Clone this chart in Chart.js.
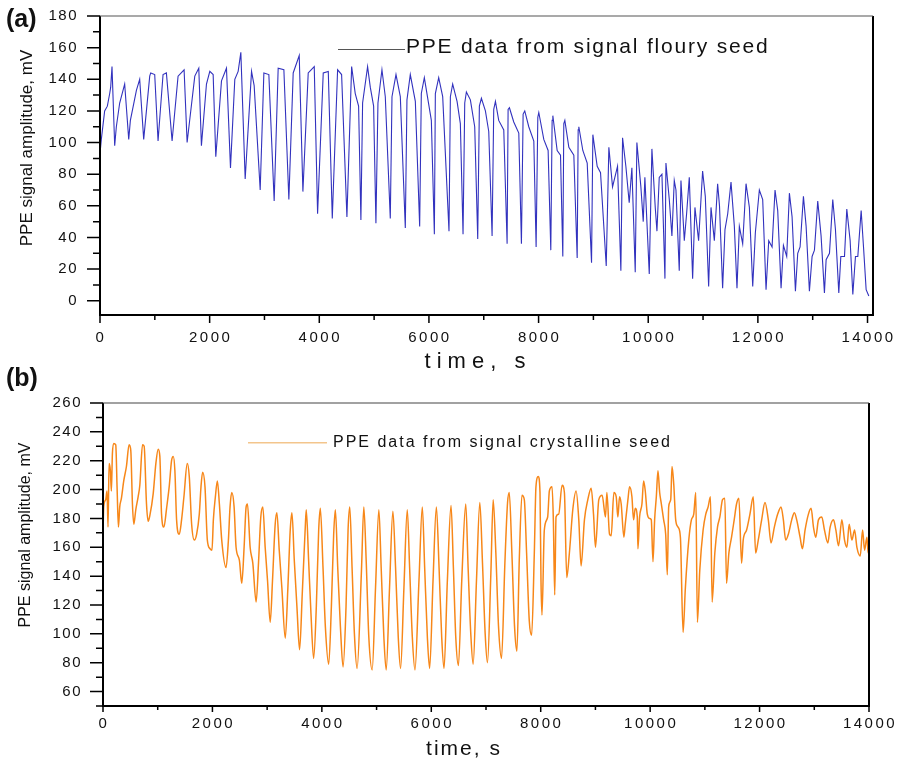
<!DOCTYPE html>
<html lang="en">
<head>
<meta charset="UTF-8">
<meta name="viewport" content="width=device-width, initial-scale=1.0">
<script src="https://cdn.jsdelivr.net/npm/chart.js"></script>
<title>PPE signal</title>
<style>
  body { margin: 0; background: #fff; overflow: hidden; }
  .panel { position: absolute; left: 0; width: 900px; }
</style>
</head>
<body>
<div class="panel" style="top:0;height:380px"><canvas id="chartA" width="900" height="380"></canvas></div>
<div class="panel" style="top:350px;height:413px"><canvas id="chartB" width="900" height="413"></canvas></div>

<script>
// (a) floury seed, time in s and amplitude in mV
const flouryTime = [
  0, 24, 85, 134, 177, 195, 219, 268, 298, 359,
  450, 524, 554, 664, 724, 797, 907, 925, 998, 1059,
  1150, 1211, 1315, 1424, 1534, 1589, 1729, 1802, 1850, 1942,
  2003, 2064, 2112, 2216, 2307, 2380, 2459, 2520, 2569, 2648,
  2764, 2812, 2922, 2989, 3080, 3177, 3250, 3354, 3445, 3524,
  3634, 3701, 3798, 3908, 3969, 4072, 4164, 4237, 4334, 4407,
  4504, 4590, 4656, 4717, 4759, 4790, 4881, 4930, 4991, 5033,
  5070, 5143, 5204, 5295, 5326, 5399, 5478, 5569, 5599, 5660,
  5752, 5831, 5861, 5916, 6044, 6099, 6117, 6178, 6251, 6366,
  6391, 6433, 6513, 6573, 6622, 6653, 6683, 6756, 6835, 6890,
  6920, 6957, 7030, 7091, 7152, 7182, 7213, 7273, 7365, 7426,
  7444, 7468, 7547, 7639, 7687, 7718, 7748, 7821, 7913, 7955,
  7986, 8004, 8095, 8174, 8223, 8247, 8260, 8339, 8400, 8442,
  8460, 8479, 8552, 8643, 8704, 8722, 8734, 8807, 8887, 8966,
  8990, 9069, 9130, 9234, 9282, 9349, 9440, 9501, 9532, 9592,
  9653, 9702, 9763, 9793, 9866, 9909, 9939, 10019, 10067, 10128,
  10159, 10201, 10250, 10305, 10323, 10384, 10432, 10475, 10506, 10566,
  10597, 10658, 10700, 10749, 10810, 10852, 10919, 10992, 11041, 11102,
  11145, 11206, 11266, 11300, 11357, 11400, 11450, 11510, 11571, 11619,
  11662, 11723, 11784, 11845, 11906, 11954, 12027, 12088, 12149, 12198,
  12259, 12313, 12362, 12423, 12466, 12526, 12575, 12624, 12685, 12727,
  12770, 12831, 12880, 12940, 12989, 13032, 13092, 13153, 13214, 13245,
  13306, 13366, 13415, 13476, 13513, 13580, 13622, 13683, 13732, 13780,
  13823, 13884, 13927, 13975, 14024
];
const flouryAmp = [
  93, 102, 120, 123, 131, 135, 148, 98, 110, 125,
  137, 102, 114, 133, 140, 102, 142, 144, 143, 101,
  143, 144, 101, 142, 146, 100, 142, 147, 98, 137,
  145, 143, 91, 139, 147, 84, 140, 145, 157, 77,
  145, 136, 70, 144, 143, 63, 147, 146, 64, 144,
  155, 69, 144, 148, 55, 144, 145, 52, 146, 143,
  53, 148, 131, 123, 51, 125, 148, 135, 123, 49,
  125, 146, 129, 52, 129, 143, 129, 46, 127, 143,
  126, 47, 131, 141, 114, 42, 131, 141, 129, 44,
  129, 137, 126, 112, 42, 125, 132, 127, 110, 39,
  123, 128, 120, 107, 41, 121, 126, 114, 108, 36,
  121, 122, 113, 106, 36, 118, 120, 110, 101, 34,
  116, 119, 102, 95, 32, 114, 117, 95, 92, 28,
  112, 114, 97, 92, 27, 108, 110, 95, 87, 24,
  105, 85, 81, 22, 97, 72, 85, 19, 103, 85,
  62, 84, 18, 100, 72, 50, 78, 17, 96, 59,
  44, 78, 80, 14, 87, 64, 41, 76, 70, 19,
  76, 38, 55, 78, 14, 59, 38, 82, 66, 9,
  59, 38, 74, 60, 8, 45, 55, 75, 47, 8,
  47, 36, 74, 59, 9, 43, 70, 64, 7, 38,
  34, 70, 57, 8, 35, 28, 68, 53, 6, 30,
  34, 66, 47, 6, 28, 32, 63, 41, 5, 26,
  30, 64, 45, 5, 28, 28, 58, 38, 4, 28,
  28, 57, 34, 7, 3
];

// (b) crystalline seed
const crystTime = [
  0, 13, 50, 74, 92, 111, 135, 153, 172, 196,
  233, 257, 282, 306, 337, 379, 428, 477, 508, 538,
  563, 599, 642, 673, 722, 752, 795, 825, 856, 917,
  966, 1009, 1039, 1070, 1113, 1162, 1210, 1253, 1284, 1314,
  1345, 1394, 1436, 1479, 1540, 1577, 1620, 1669, 1711, 1760,
  1791, 1821, 1864, 1907, 1956, 1992, 2017, 2054, 2090, 2127,
  2170, 2249, 2292, 2322, 2353, 2396, 2432, 2493, 2536, 2579,
  2616, 2640, 2689, 2738, 2799, 2842, 2884, 2921, 2964, 3007,
  3056, 3098, 3147, 3178, 3221, 3269, 3331, 3379, 3422, 3453,
  3496, 3544, 3593, 3642, 3697, 3715, 3758, 3801, 3850, 3899,
  3942, 3972, 4021, 4064, 4125, 4174, 4216, 4247, 4290, 4339,
  4388, 4442, 4479, 4510, 4552, 4595, 4644, 4724, 4767, 4810,
  4858, 4920, 4981, 5042, 5084, 5133, 5176, 5237, 5298, 5347,
  5396, 5439, 5500, 5561, 5604, 5653, 5702, 5775, 5836, 5879,
  5928, 5970, 6032, 6093, 6142, 6190, 6233, 6294, 6361, 6404,
  6447, 6496, 6557, 6630, 6673, 6722, 6765, 6826, 6887, 6936,
  6985, 7027, 7089, 7131, 7180, 7229, 7284, 7345, 7394, 7425,
  7473, 7522, 7565, 7608, 7657, 7700, 7742, 7791, 7834, 7883,
  7913, 7956, 7987, 8005, 8023, 8066, 8127, 8158, 8207, 8231,
  8256, 8280, 8329, 8390, 8433, 8476, 8524, 8586, 8647, 8696,
  8738, 8799, 8861, 8922, 8965, 9001, 9062, 9123, 9184, 9209,
  9258, 9288, 9337, 9380, 9410, 9441, 9471, 9520, 9545, 9594,
  9624, 9667, 9697, 9728, 9765, 9777, 9807, 9850, 9881, 9911,
  9948, 9991, 10021, 10052, 10082, 10113, 10143, 10174, 10205, 10247,
  10284, 10314, 10339, 10376, 10400, 10431, 10467, 10510, 10553, 10602,
  10644, 10706, 10754, 10797, 10834, 10864, 10907, 10968, 11017, 11060,
  11103, 11133, 11182, 11231, 11274, 11323, 11365, 11396, 11439, 11488,
  11536, 11579, 11622, 11671, 11701, 11763, 11824, 11885, 11928, 11976,
  12038, 12099, 12160, 12209, 12270, 12331, 12392, 12435, 12477, 12526,
  12587, 12636, 12679, 12740, 12783, 12832, 12893, 12942, 12985, 13027,
  13076, 13137, 13186, 13247, 13290, 13351, 13394, 13443, 13504, 13553,
  13596, 13638, 13687, 13736, 13779, 13840, 13883, 13919, 13962, 13985, 14000
];
const crystAmp = [
  169, 188, 193, 199, 174, 218, 213, 199, 225, 232,
  231, 202, 174, 188, 194, 206, 216, 231, 227, 190,
  176, 186, 195, 203, 231, 230, 190, 178, 182, 197,
  218, 228, 223, 183, 174, 187, 202, 220, 223, 213,
  179, 169, 179, 195, 218, 209, 176, 165, 169, 183,
  202, 212, 202, 165, 159, 158, 179, 195, 206, 190,
  165, 146, 165, 188, 198, 188, 160, 151, 135, 160,
  188, 190, 160, 149, 122, 149, 181, 188, 160, 137,
  108, 137, 176, 184, 158, 132, 97, 132, 172, 184,
  151, 119, 89, 128, 174, 186, 151, 114, 83, 119,
  172, 187, 146, 105, 79, 119, 169, 186, 146, 105,
  77, 119, 172, 188, 146, 100, 76, 144, 188, 151,
  98, 75, 132, 186, 146, 98, 75, 132, 185, 146,
  98, 76, 132, 186, 146, 98, 75, 137, 188, 146,
  98, 76, 137, 188, 146, 98, 76, 137, 189, 146,
  98, 78, 137, 190, 146, 100, 79, 137, 191, 149,
  100, 80, 142, 193, 156, 105, 83, 149, 191, 198,
  156, 105, 88, 151, 196, 193, 156, 109, 99, 156,
  202, 209, 198, 137, 113, 172, 181, 199, 202, 179,
  127, 181, 183, 203, 198, 139, 156, 186, 199, 179,
  147, 179, 193, 201, 183, 160, 193, 196, 181, 198,
  169, 168, 198, 195, 181, 195, 190, 167, 176, 193,
  202, 195, 179, 187, 181, 159, 181, 190, 206, 199,
  183, 180, 179, 150, 179, 195, 213, 198, 190, 179,
  169, 141, 188, 193, 216, 204, 179, 174, 167, 101,
  132, 165, 179, 183, 198, 108, 144, 172, 183, 188,
  195, 122, 156, 174, 181, 193, 194, 135, 156, 167,
  179, 190, 194, 149, 165, 172, 183, 195, 156, 165,
  179, 191, 179, 163, 174, 183, 188, 179, 165, 169,
  179, 184, 179, 167, 159, 172, 183, 187, 174, 167,
  179, 181, 172, 163, 174, 179, 172, 161, 179, 165,
  160, 176, 165, 172, 160, 154, 172, 158, 167, 156, 167
];

const timeTicks = [0, 2000, 4000, 6000, 8000, 10000, 12000, 14000];
const flouryTicks = [0, 20, 40, 60, 80, 100, 120, 140, 160, 180];
const crystTicks = [60, 80, 100, 120, 140, 160, 180, 200, 220, 240, 260];

const FONT = '"Liberation Sans", Arial, sans-serif';

function midpoints(arr) {
  const out = [];
  for (let i = 0; i < arr.length - 1; i++) out.push((arr[i] + arr[i + 1]) / 2);
  return out;
}

function spaced(ctx, text, x, y, sp) {
  ctx.letterSpacing = sp + 'px';
  ctx.fillText(text, x, y);
  ctx.letterSpacing = '0px';
}

// frame, tick marks, labels, titles and the in-plot legend
const decor = {
  id: 'decor',
  afterDraw(chart, args, o) {
    const { ctx, chartArea: a, scales: { x, y } } = chart;
    ctx.save();
    ctx.strokeStyle = '#000';

    // tick marks
    ctx.lineWidth = 1.5;
    ctx.beginPath();
    o.yTicks.forEach(v => { const p = y.getPixelForValue(v); ctx.moveTo(a.left, p); ctx.lineTo(a.left - o.yMajor, p); });
    midpoints(o.yTicks).concat(o.yExtraMinor).forEach(v => { const p = y.getPixelForValue(v); ctx.moveTo(a.left, p); ctx.lineTo(a.left - o.yMinor, p); });
    o.xTicks.forEach(v => { const p = x.getPixelForValue(v); ctx.moveTo(p, a.bottom); ctx.lineTo(p, a.bottom + o.xMajor); });
    midpoints(o.xTicks).forEach(v => { const p = x.getPixelForValue(v); ctx.moveTo(p, a.bottom); ctx.lineTo(p, a.bottom + o.xMinor); });
    ctx.stroke();

    // frame
    ctx.lineWidth = 2;
    ctx.beginPath();
    ctx.moveTo(a.left, a.top); ctx.lineTo(a.left, a.bottom); ctx.lineTo(a.right, a.bottom); ctx.lineTo(a.right, a.top);
    ctx.stroke();
    ctx.strokeStyle = o.topColor;
    ctx.lineWidth = 1.2;
    ctx.beginPath(); ctx.moveTo(a.left, a.top); ctx.lineTo(a.right, a.top); ctx.stroke();

    // tick labels
    ctx.fillStyle = '#111';
    ctx.font = '15px ' + FONT;
    ctx.textAlign = 'right';
    ctx.textBaseline = 'middle';
    o.yTicks.forEach(v => spaced(ctx, String(v), o.yLabelX, y.getPixelForValue(v), 1.5));
    ctx.textAlign = 'center';
    o.xTicks.forEach(v => spaced(ctx, String(v), x.getPixelForValue(v) + 1, o.xLabelY, 2.5));

    // axis titles
    ctx.font = o.xTitle.size + 'px ' + FONT;
    spaced(ctx, o.xTitle.text, o.xTitle.x, o.xTitle.y, o.xTitle.sp);
    ctx.save();
    ctx.translate(o.yTitle.x, o.yTitle.y);
    ctx.rotate(-Math.PI / 2);
    ctx.font = o.yTitle.size + 'px ' + FONT;
    ctx.fillText(o.yTitle.text, 0, 0);
    ctx.restore();

    // panel letter
    ctx.font = 'bold 25px ' + FONT;
    ctx.textAlign = 'left';
    ctx.fillText(o.panel.text, o.panel.x, o.panel.y);

    // legend
    const L = o.legend;
    ctx.strokeStyle = L.color;
    ctx.lineWidth = L.width;
    ctx.beginPath(); ctx.moveTo(L.x1, L.y); ctx.lineTo(L.x2, L.y); ctx.stroke();
    ctx.font = L.size + 'px ' + FONT;
    ctx.textBaseline = 'alphabetic';
    spaced(ctx, L.text, L.textX, L.textY, L.sp);
    ctx.restore();
  }
};

function makeChart(id, xs, ys, style, sc, deco) {
  const pts = xs.map((t, i) => ({ x: t, y: ys[i] }));
  return new Chart(document.getElementById(id), {
    type: 'line',
    data: {
      datasets: [{
        data: pts, borderColor: style.color, borderWidth: style.width,
        pointRadius: 0, fill: false,
        cubicInterpolationMode: style.smooth ? 'monotone' : 'default',
        tension: 0
      }]
    },
    options: {
      responsive: false,
      animation: false,
      devicePixelRatio: 1,
      events: [],
      layout: { padding: sc.pad },
      plugins: { legend: { display: false }, tooltip: { enabled: false }, decor: deco },
      scales: {
        x: {
          type: 'linear', min: sc.xMin, max: sc.xMax,
          grid: { display: false, drawTicks: false }, border: { display: false },
          ticks: { display: false },
          afterFit(s) { s.height = sc.xH; }
        },
        y: {
          min: sc.yMin, max: sc.yMax,
          grid: { display: false, drawTicks: false }, border: { display: false },
          ticks: { display: false },
          afterFit(s) { s.width = sc.yW; }
        }
      }
    },
    plugins: [decor]
  });
}

makeChart('chartA', flouryTime, flouryAmp, { color: 'rgb(50,50,190)', width: 1.1, smooth: false },
  { pad: { left: 0, top: 16, right: 27, bottom: 0 }, xMin: 0, xMax: 14100, yMin: -9, yMax: 180, xH: 65, yW: 100 },
  {
    yTicks: flouryTicks, yExtraMinor: [], xTicks: timeTicks,
    yMajor: 13, yMinor: 7, xMajor: 8, xMinor: 5,
    yLabelX: 78, xLabelY: 337.5, topColor: '#555',
    panel: { text: '(a)', x: 6, y: 20 },
    yTitle: { text: 'PPE signal amplitude, mV', x: 27, y: 148, size: 17 },
    xTitle: { text: 'time, s', x: 478, y: 362, size: 22, sp: 6 },
    legend: { x1: 338, x2: 405, y: 49.5, color: '#555', width: 1, text: 'PPE data from signal floury seed', textX: 406, textY: 53, size: 21, sp: 1.8 }
  });

makeChart('chartB', crystTime, crystAmp, { color: 'rgb(247,135,25)', width: 1.5, smooth: true },
  { pad: { left: 0, top: 53, right: 31, bottom: 0 }, xMin: 0, xMax: 14000, yMin: 50, yMax: 260, xH: 57, yW: 103 },
  {
    yTicks: crystTicks, yExtraMinor: [50], xTicks: timeTicks,
    yMajor: 13, yMinor: 7, xMajor: 6, xMinor: 4,
    yLabelX: 82, xLabelY: 374, topColor: '#444',
    panel: { text: '(b)', x: 6, y: 29 },
    yTitle: { text: 'PPE signal amplitude, mV', x: 26, y: 185, size: 16 },
    xTitle: { text: 'time, s', x: 464, y: 399, size: 21, sp: 2 },
    legend: { x1: 248, x2: 327, y: 92.7, color: '#f3c58c', width: 1.5, text: 'PPE data from signal crystalline seed', textX: 333, textY: 96.7, size: 16, sp: 2 }
  });
</script>
</body>
</html>
